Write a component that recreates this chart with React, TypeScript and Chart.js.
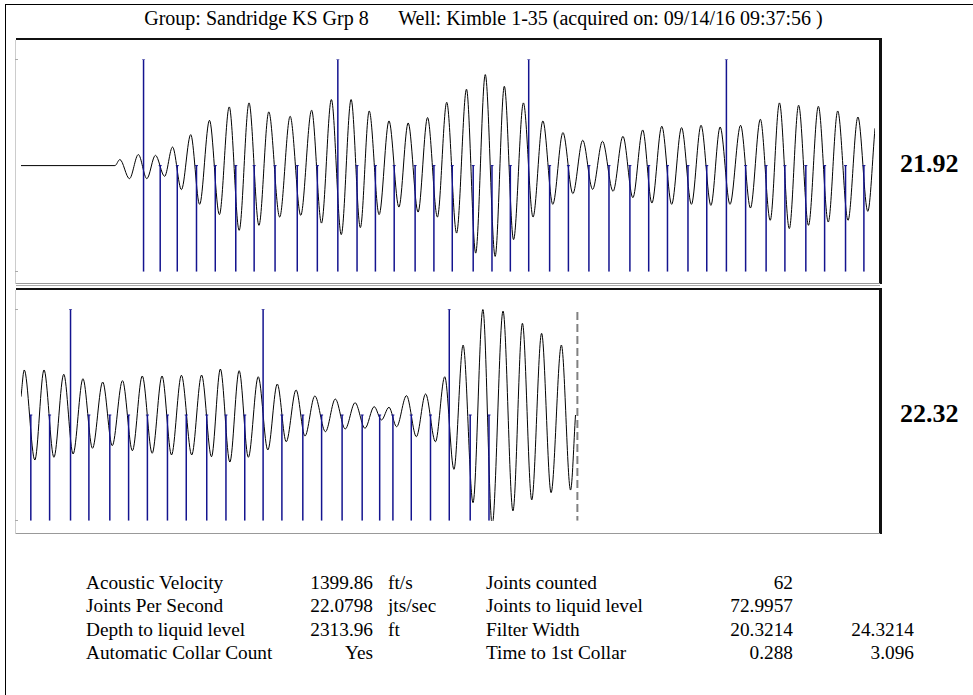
import React, { useEffect, useRef } from "react";
import Chart from "chart.js/auto";

// ---------- data ----------
const titleText = "Group: Sandridge KS Grp 8      Well: Kimble 1-35 (acquired on: 09/14/16 09:37:56 )";

// panel 1 waveform (time in s, amplitude in % of full scale) – extrema of the trace
const wave1Time = [0, 0.220, 0.2315, 0.254, 0.2748, 0.2947, 0.3148, 0.3363, 0.3549, 0.3757, 0.3975, 0.4183, 0.4414, 0.4646, 0.4877, 0.5109, 0.5340, 0.5572, 0.5803, 0.6058, 0.6303, 0.6551, 0.6806, 0.7037, 0.7269, 0.75, 0.7731, 0.7947, 0.8155, 0.8387, 0.8618, 0.8850, 0.9067, 0.9299, 0.9521, 0.9752, 0.9970, 1.0201, 1.0433, 1.0648, 1.0873, 1.1104, 1.1319, 1.1535, 1.1766, 1.1991, 1.2222, 1.2454, 1.2692, 1.2924, 1.3155, 1.3387, 1.3618, 1.3866, 1.4097, 1.4329, 1.4560, 1.4775, 1.5007, 1.5238, 1.5470, 1.5701, 1.5926, 1.6157, 1.6373, 1.6604, 1.6852, 1.7083, 1.7315, 1.7546, 1.7762, 1.7993, 1.8211, 1.8442, 1.8674, 1.8905, 1.9127, 1.9368, 1.9600, 1.9831, 2.0];
const wave1Amp = [0, 0, 5.7, -12.3, 10.4, -12.3, 9.7, -10.1, 17.5, -22.6, 29.2, -36.5, 42.7, -46.2, 55.3, -61.0, 59.1, -56.3, 50.6, -48.5, 46.5, -46.9, 52.2, -54.2, 62.3, -65.1, 62.3, -58.5, 51.5, -46.2, 42.1, -39.1, 40.2, -43.8, 45.3, -48.5, 59.7, -63.6, 72.0, -82.5, 85.8, -85.6, 74.8, -69.8, 59.1, -48.5, 42.1, -36.5, 31.1, -26.4, 23.9, -22.4, 22.9, -24.2, 27.6, -30.2, 33.6, -35.3, 37.1, -36.5, 35.8, -36.5, 38.0, -37.5, 36.4, -36.5, 38.0, -40.0, 43.7, -51.6, 59.1, -59.4, 56.9, -56.3, 55.9, -53.2, 51.5, -51.6, 45.8, -43.1, 35.2];

// panel 2 waveform
const wave2Time = [2.0, 2.0076, 2.0324, 2.0539, 2.0771, 2.1002, 2.1220, 2.1451, 2.1674, 2.1914, 2.2137, 2.2377, 2.2609, 2.2840, 2.3072, 2.3303, 2.3525, 2.3757, 2.3998, 2.4229, 2.4461, 2.4669, 2.4891, 2.5109, 2.5324, 2.5556, 2.5780, 2.6002, 2.6211, 2.6442, 2.6650, 2.6882, 2.7130, 2.7361, 2.7593, 2.7824, 2.8056, 2.8271, 2.8442, 2.8618, 2.8796, 2.9028, 2.9259, 2.9475, 2.9706, 2.9924, 3.0139, 3.0354, 3.0586, 3.0817, 3.1035, 3.1289, 3.1521, 3.1743, 3.1961, 3.2192, 3.2414, 3.2655, 3.2870, 3.2986];
const wave2Amp = [17.3, 42.6, -42.6, 42.6, -40.0, 38.5, -36.9, 34.3, -31.5, 31.2, -29.0, 32.5, -33.8, 36.9, -36.2, 36.9, -37.8, 37.6, -37.8, 37.8, -39.5, 43.5, -44.5, 41.9, -40.0, 36.2, -33.1, 29.3, -25.3, 23.7, -19.9, 18.0, -15.8, 15.1, -13.2, 11.6, -12.6, 7.9, -4.7, 7.3, -11.1, 18.3, -20.5, 19.9, -25.3, 36.2, -51.4, 66.2, -83.0, 100, -104, 98.4, -90.8, 86.8, -80.4, 77.3, -73.5, 66.2, -71.0, 0];

// collar (joint) marker times in seconds
const collarTimes = [0.287, 0.326, 0.366, 0.411, 0.455, 0.503, 0.546, 0.595, 0.647, 0.694, 0.742, 0.787, 0.830, 0.874, 0.923, 0.967, 1.010, 1.059, 1.103, 1.146, 1.189, 1.238, 1.282, 1.330, 1.377, 1.426, 1.470, 1.514, 1.562, 1.606, 1.652, 1.697, 1.745, 1.789, 1.838, 1.882, 1.931, 1.974, 2.023, 2.067, 2.116, 2.159, 2.208, 2.252, 2.296, 2.343, 2.387, 2.435, 2.480, 2.524, 2.567, 2.611, 2.660, 2.704, 2.752, 2.799, 2.840, 2.871, 2.914, 2.959, 3.003, 3.052, 3.096];
// collars drawn full height (every tenth)
const markedCollars = [1, 11, 21, 31, 41, 51, 61];
const liquidLevelTime = 3.303;

const panelStart = [0, 2];
const panelEnd = [2, 4];
const panelLabels = ["21.92", "22.32"];

const tableLeftLabels = ["Acoustic Velocity", "Joints Per Second", "Depth to liquid level", "Automatic Collar Count"];
const tableLeftValues = ["1399.86", "22.0798", "2313.96", "Yes"];
const tableLeftUnits = ["ft/s", "jts/sec", "ft", ""];
const tableRightLabels = ["Joints counted", "Joints to liquid level", "Filter Width", "Time to 1st Collar"];
const tableRightValues = ["62", "72.9957", "20.3214", "0.288"];
const tableRightExtra = ["", "", "24.3214", "3.096"];

// ---------- components ----------
type PanelProps = {
  times: number[];
  amps: number[];
  xMin: number;
  xMax: number;
  showLiquid: boolean;
  top: number;
  padTop: number;
  padBottom: number;
};

function Panel({ times, amps, xMin, xMax, showLiquid, top, padTop, padBottom }: PanelProps) {
  const ref = useRef<HTMLCanvasElement | null>(null);
  useEffect(() => {
    if (!ref.current) return;
    const wave = times.map((t, i) => ({ x: t, y: amps[i] }));
    const collars: any[] = [];
    collarTimes.forEach((t, i) => {
      if (t < xMin || t > xMax) return;
      const full = markedCollars.includes(i + 1);
      collars.push({ x: t, y: full ? 100 : 0 }, { x: t, y: -100 }, { x: t, y: null });
    });
    const datasets: any[] = [
      {
        data: collars,
        borderColor: "#14148f",
        borderWidth: 1.5,
        tension: 0,
        spanGaps: false,
        pointStyle: "line",
        pointRadius: (c: any) => (c.raw && c.raw.y !== null && c.raw.y !== -100 ? 1.5 : 0),
        pointBorderColor: "#14148f",
        pointBorderWidth: 1,
      },
      {
        data: wave,
        borderColor: "#000000",
        borderWidth: 1,
        pointRadius: 0,
        cubicInterpolationMode: "monotone",
      },
    ];
    if (showLiquid) {
      datasets.push({
        data: [
          { x: liquidLevelTime, y: 97.5 },
          { x: liquidLevelTime, y: -100 },
        ],
        borderColor: "#808080",
        borderWidth: 2,
        borderDash: [8, 4],
        pointRadius: 0,
      });
    }
    const chart = new Chart(ref.current, {
      type: "line",
      data: { datasets },
      options: {
        animation: false,
        responsive: false,
        events: [],
        layout: { padding: { top: padTop, bottom: padBottom, left: 0, right: 0 } },
        plugins: { legend: { display: false }, tooltip: { enabled: false } },
        scales: {
          x: { type: "linear", min: xMin, max: xMax, display: false },
          y: { type: "linear", min: -100, max: 100, display: false },
        },
      },
    });
    return () => chart.destroy();
  }, []);
  return (
    <canvas
      ref={ref}
      width={864}
      height={243}
      style={{ position: "absolute", left: 16, top, width: 864, height: 243 }}
    />
  );
}

const abs = (l: number, t: number, w: number, h: number, bg: string): React.CSSProperties => ({
  position: "absolute",
  left: l,
  top: t,
  width: w,
  height: h,
  background: bg,
});

export default function App() {
  const rowTop = [573.1, 596.4, 619.8, 643.1];
  const txt: React.CSSProperties = {
    position: "absolute",
    fontSize: 19.3,
    lineHeight: "19.3px",
    whiteSpace: "pre",
    color: "#000",
  };
  return (
    <div
      style={{
        position: "fixed",
        left: 0,
        top: 0,
        width: 973,
        height: 695,
        background: "#fff",
        fontFamily: "'Liberation Serif', 'Times New Roman', serif",
        overflow: "hidden",
      }}
    >
      {/* outer frame */}
      <div style={abs(5, 4, 968, 1, "#000")} />
      <div style={abs(5, 4, 1, 691, "#000")} />

      {/* title */}
      <div style={{ ...txt, left: 0, width: 967, textAlign: "center", top: 8.3, fontSize: 20, lineHeight: "20px" }}>{titleText}</div>

      {/* panel 1 */}
      <Panel times={wave1Time} amps={wave1Amp} xMin={panelStart[0]} xMax={panelEnd[0]} showLiquid={false} top={40} padTop={19.5} padBottom={11.3} />
      <div style={abs(16, 38, 866, 2, "#111")} />
      <div style={abs(879, 38, 3, 246, "#111")} />
      <div style={abs(15, 40, 1, 244, "#ccc")} />
      <div style={abs(16, 283, 864, 1, "#999")} />
      <div style={abs(15, 59, 3, 1, "#aaa")} />
      <div style={abs(15, 271, 3, 1, "#aaa")} />

      {/* panel 2 */}
      <Panel times={wave2Time} amps={wave2Amp} xMin={panelStart[1]} xMax={panelEnd[1]} showLiquid={true} top={290} padTop={19.3} padBottom={12.3} />
      <div style={abs(16, 285, 864, 1, "#aaa")} />
      <div style={abs(16, 288, 866, 2, "#111")} />
      <div style={abs(879, 288, 3, 246, "#111")} />
      <div style={abs(15, 290, 1, 244, "#ccc")} />
      <div style={abs(16, 533, 864, 1, "#999")} />
      <div style={abs(15, 309, 3, 1, "#aaa")} />
      <div style={abs(15, 520, 3, 1, "#aaa")} />

      {/* panel labels */}
      <div style={{ ...txt, left: 900, top: 151, fontSize: 26, lineHeight: "26px", fontWeight: "bold" }}>{panelLabels[0]}</div>
      <div style={{ ...txt, left: 900, top: 401, fontSize: 26, lineHeight: "26px", fontWeight: "bold" }}>{panelLabels[1]}</div>

      {/* results table */}
      {rowTop.map((t, i) => (
        <React.Fragment key={i}>
          <div style={{ ...txt, left: 86, top: t }}>{tableLeftLabels[i]}</div>
          <div style={{ ...txt, left: 253, width: 120, textAlign: "right", top: t }}>{tableLeftValues[i]}</div>
          <div style={{ ...txt, left: 388, top: t }}>{tableLeftUnits[i]}</div>
          <div style={{ ...txt, left: 486, top: t }}>{tableRightLabels[i]}</div>
          <div style={{ ...txt, left: 673, width: 120, textAlign: "right", top: t }}>{tableRightValues[i]}</div>
          <div style={{ ...txt, left: 794, width: 120, textAlign: "right", top: t }}>{tableRightExtra[i]}</div>
        </React.Fragment>
      ))}
    </div>
  );
}
